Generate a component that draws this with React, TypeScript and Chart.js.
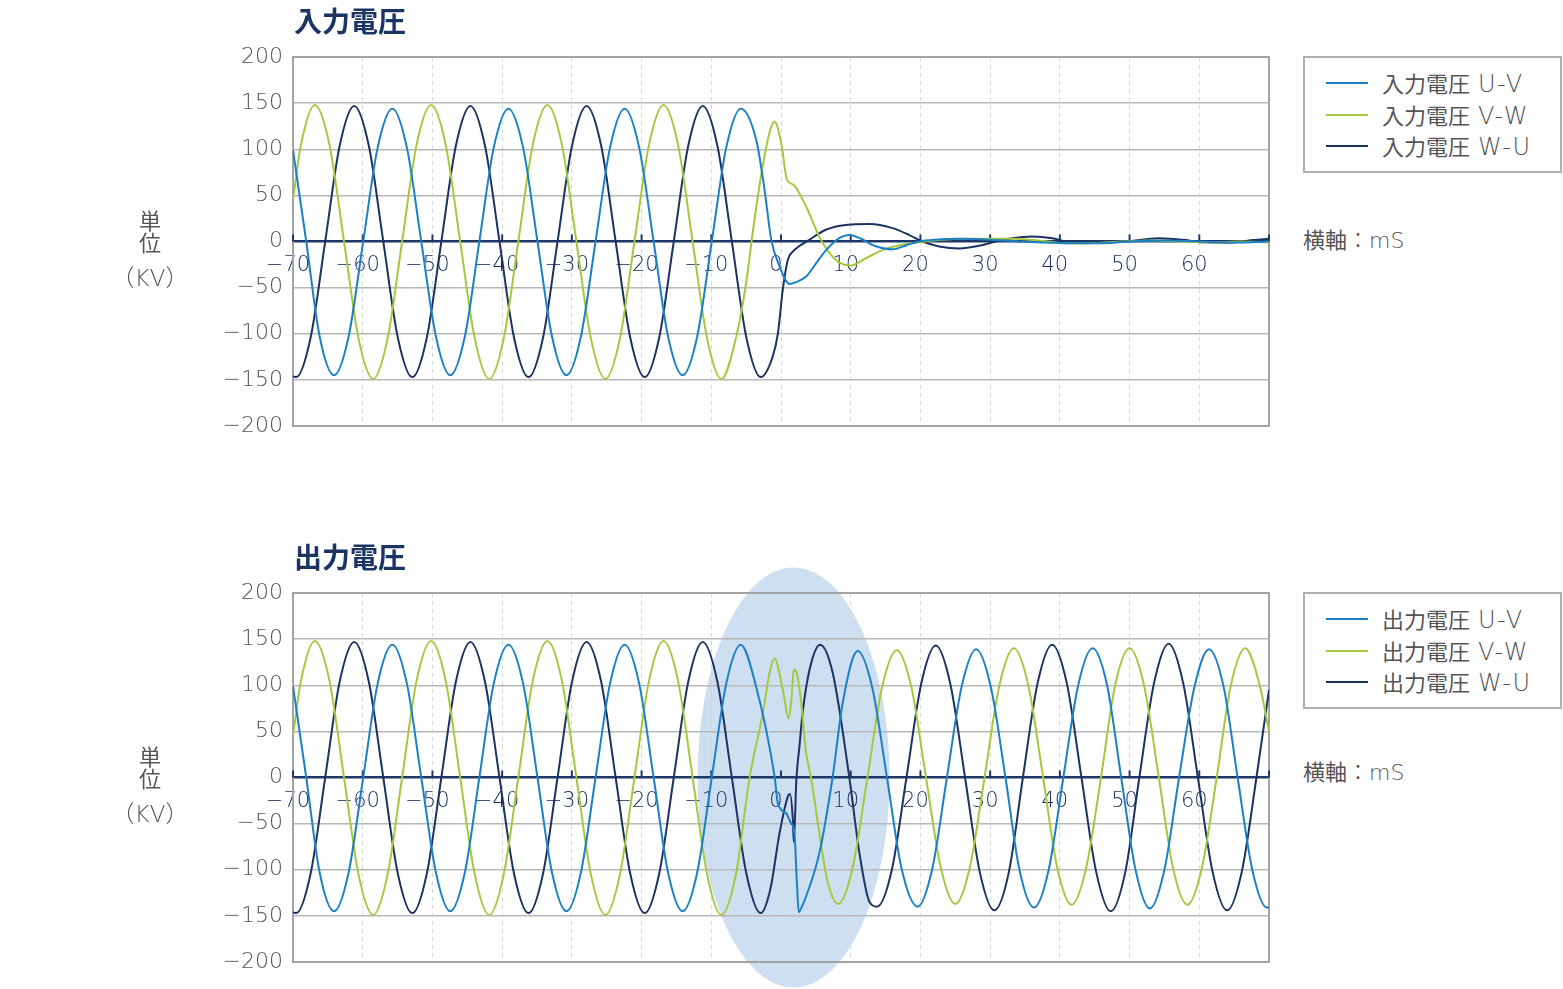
import React, { useEffect, useRef } from 'react';
import { Chart, registerables } from 'chart.js';

Chart.register(...registerables);

// ---------- axes ----------
const X_MIN = -70;
const X_MAX = 70;
const X_STEP = 10;
const Y_MIN = -200;
const Y_MAX = 200;
const Y_STEP = 50;

// ---------- pre-fault waveforms (same on both charts) : time ms / kV ----------
const PRE_UV_T = [-70, -68.1, -66.18, -64.1, -62.02, -59.93, -57.85, -55.75, -53.67, -51.6, -49.5, -47.45, -45.35, -43.27, -41.2, -39.1, -37.0, -34.93, -32.85, -30.78, -28.7, -26.6, -24.52, -22.43, -20.35, -18.27, -16.2, -14.1, -12.02, -9.93, -7.85, -5.77];
const PRE_UV_V = [99, 0, -103, -145, -103, 0, 102, 144, 102, 0, -103, -145, -103, 0, 102, 144, 102, 0, -103, -145, -103, 0, 102, 144, 102, 0, -103, -145, -103, 0, 102, 144];

const PRE_VW_T = [-70, -68.93, -66.85, -64.77, -62.68, -60.6, -58.5, -56.43, -54.35, -52.27, -50.18, -48.1, -46.02, -43.93, -41.85, -39.77, -37.68, -35.6, -33.5, -31.43, -29.35, -27.27, -25.2, -23.1, -21.02, -18.93, -16.85, -14.77, -12.68, -10.6, -8.55];
const PRE_VW_V = [45, 102, 148, 105, 0, -105, -149, -105, 0, 105, 148, 105, 0, -105, -149, -105, 0, 105, 148, 105, 0, -105, -149, -105, 0, 105, 148, 105, 0, -105, -149];

const PRE_WU_T = [-70, -69.55, -67.47, -65.38, -63.3, -61.22, -59.13, -57.05, -54.97, -52.88, -50.8, -48.72, -46.63, -44.55, -42.47, -40.38, -38.3, -36.22, -34.13, -32.05, -29.97, -27.88, -25.8, -23.72, -21.63, -19.55, -17.47, -15.38, -13.3, -11.22, -9.13, -7.05, -4.97, -2.9];
const PRE_WU_V = [-146, -147, -104, 0, 104, 147, 104, 0, -104, -147, -104, 0, 104, 147, 104, 0, -104, -147, -104, 0, 104, 147, 104, 0, -104, -147, -104, 0, 104, 147, 104, 0, -104, -147];

// ---------- input voltage after the event ----------
const IN_UV_T = [-3.55, -2.36, -1.4, -0.2, 1.2, 2.2, 3.6, 5, 6.5, 8.4, 9.8, 11.5, 13.2, 16, 18, 19.8, 22, 25.6, 30, 34, 38, 42, 46, 50, 55, 60, 65, 70];
const IN_UV_V = [110, 56, 2, -27, -46, -44, -38, -24, -9, 4, 7, 3, -4, -8.5, -4, 0, 2, 3, 2, 0, -1, -2, -2, 0, 1, 0, -1, 0];

const IN_VW_T = [-6.47, -5, -4, -2.8, -1.65, -0.93, 0, 0.9, 1.7, 3.6, 5.5, 7, 8.4, 10, 12.2, 15, 17, 19.5, 23, 27, 33, 37, 41, 45, 49, 53, 57, 62, 66, 70];
const IN_VW_V = [-105, -45, 13, 74, 118, 130, 108, 66, 62, 38, 5, -13, -23, -26, -18, -8, -4, -1, 2, 3, 3, 1, -2, -1.5, 0, 1, 0, -1, 0, -1];

const IN_WU_T = [-1.2, -0.45, 0.26, 0.97, 1.7, 4.1, 6.5, 9.3, 12.7, 16, 18.4, 20.3, 22.7, 25.6, 28.4, 30.8, 33.2, 36, 38.9, 40.9, 43.7, 47, 49.5, 54.2, 58, 60, 64.6, 67.6, 70];
const IN_WU_V = [-125, -100, -52, -20, -11, 2, 13, 18, 19, 14.5, 7, 0, -5.4, -7.6, -4.7, 0, 3.6, 5.4, 3.6, 0, -1.8, -0.7, 0, 3.6, 1.5, -0.7, -1, 1.5, 3];

// ---------- output voltage after the event ----------
const OUT_UV_T = [-3.69, -0.9, -0.45, 0.75, 1.46, 1.93, 2.26, 2.55, 3.1, 3.6, 5.5, 7.4, 8.85, 11, 13.1, 15.2, 17.3, 19.6, 21.7, 23.8, 25.9, 28.0, 30.1, 32.2, 34.2, 36.3, 38.4, 40.5, 42.6, 44.7, 46.8, 48.8, 50.85, 52.9, 55.0, 57.1, 59.3, 61.4, 63.5, 65.5, 67.6, 69.7, 70];
const OUT_UV_V = [102, 0, -28, -39, -50, -60, -111, -146, -138, -129, -82, 0, 81, 137, 97, 0, -99, -140, -99, 0, 98, 139, 98, 0, -100, -141, -100, 0, 99, 140, 99, 0, -100, -142, -100, 0, 98, 139, 98, 0, -100, -141, -141];

const OUT_VW_T = [-6.47, -4.5, -2.6, -1.6, -0.93, 0.26, 1.1, 1.5, 1.84, 2.3, 2.9, 3.6, 4.3, 5.5, 6.6, 8.2, 10.3, 12.4, 14.5, 16.6, 18.7, 20.8, 22.9, 25.0, 27.1, 29.2, 31.3, 33.4, 35.5, 37.6, 39.6, 41.7, 43.8, 45.9, 47.9, 50.0, 52.1, 54.2, 56.2, 58.3, 60.4, 62.5, 64.5, 66.6, 68.7, 70];
const OUT_VW_V = [-105, 0, 70, 115, 129, 95, 64, 85, 117, 112, 81, 27, 0, -60, -110, -137, -97, 0, 98, 138, 98, 0, -97, -137, -97, 0, 99, 140, 99, 0, -97, -138, -97, 0, 99, 140, 99, 0, -97, -138, -97, 0, 99, 140, 99, 50];

const OUT_WU_T = [-1.5, -0.2, 0.97, 1.3, 1.7, 1.84, 2.2, 2.65, 3.1, 4.1, 5.6, 7.4, 9.8, 11.25, 12.7, 13.8, 15.9, 18.0, 20.1, 22.2, 24.3, 26.4, 28.5, 30.6, 32.7, 34.7, 36.8, 38.9, 41.0, 43.1, 45.2, 47.3, 49.4, 51.4, 53.5, 55.6, 57.7, 59.8, 61.9, 64.0, 66.1, 68.2, 70];
const OUT_WU_V = [-120, -60, -21, -18, -46, -70, -3, 34, 70, 117, 144, 114, 0, -82, -135, -140, -100, 0, 101, 143, 101, 0, -102, -144, -102, 0, 102, 144, 102, 0, -102, -145, -102, 0, 102, 145, 102, 0, -102, -144, -102, 0, 95];

// highlighted region in output chart (ms, kV)
const HIGHLIGHT_T = 1.8;
const HIGHLIGHT_V = 0;

const PHASES = ['U-V', 'V-W', 'W-U'];
const C_UV = '#1c80c4';
const C_VW = '#a6c83c';
const C_WU = '#1b3262';
const COLORS = [C_UV, C_VW, C_WU];
const NAVY = '#1d3766';

type Pt = { x: number; y: number };
const pts = (t: number[], v: number[]): Pt[] => t.map((x, i) => ({ x, y: v[i] }));

const inputSeries = [
  pts(PRE_UV_T.concat(IN_UV_T), PRE_UV_V.concat(IN_UV_V)),
  pts(PRE_VW_T.concat(IN_VW_T), PRE_VW_V.concat(IN_VW_V)),
  pts(PRE_WU_T.concat(IN_WU_T), PRE_WU_V.concat(IN_WU_V)),
];
const outputSeries = [
  pts(PRE_UV_T.concat(OUT_UV_T), PRE_UV_V.concat(OUT_UV_V)),
  pts(PRE_VW_T.concat(OUT_VW_T), PRE_VW_V.concat(OUT_VW_V)),
  pts(PRE_WU_T.concat(OUT_WU_T), PRE_WU_V.concat(OUT_WU_V)),
];

const fmt = (v: number) => (v < 0 ? '\u2212' + Math.abs(v) : String(v));

const framePlugin = {
  id: 'frame',
  beforeDraw(chart: any, _args: any, opts: any) {
    if (!opts || !opts.highlight) return;
    const { ctx } = chart;
    const xs = chart.scales.x;
    const ys = chart.scales.y;
    ctx.save();
    ctx.fillStyle = '#cddff0';
    ctx.beginPath();
    ctx.ellipse(xs.getPixelForValue(HIGHLIGHT_T), ys.getPixelForValue(HIGHLIGHT_V), 96, 210, 0, 0, Math.PI * 2);
    ctx.fill();
    ctx.restore();
  },
  beforeDatasetsDraw(chart: any) {
    const { ctx, chartArea: a } = chart;
    const xs = chart.scales.x;
    const ys = chart.scales.y;
    ctx.save();
    ctx.strokeStyle = '#a3a3a3';
    ctx.lineWidth = 2;
    ctx.strokeRect(a.left, a.top, a.right - a.left, a.bottom - a.top);
    const y0 = ys.getPixelForValue(0);
    ctx.strokeStyle = NAVY;
    ctx.lineWidth = 2;
    xs.ticks.forEach((t: any) => {
      const px = xs.getPixelForValue(t.value);
      ctx.beginPath();
      ctx.moveTo(px, y0);
      ctx.lineTo(px, y0 - 7);
      ctx.stroke();
    });
    ctx.restore();
  },
};

const CW = 1290;
const CH = 453;

function WaveChart({ series, labels, highlight }: { series: Pt[][]; labels: string[]; highlight: boolean }) {
  const ref = useRef<HTMLCanvasElement>(null);
  useEffect(() => {
    const chart = new Chart(ref.current as HTMLCanvasElement, {
      type: 'line',
      data: {
        datasets: series.map((d, i) => ({
          label: labels[i],
          data: d,
          borderColor: COLORS[i],
          backgroundColor: COLORS[i],
          borderWidth: 2,
          pointRadius: 0,
          fill: false,
          cubicInterpolationMode: 'monotone' as const,
        })),
      },
      options: {
        responsive: false,
        animation: false,
        devicePixelRatio: 1,
        events: [],
        layout: { padding: { left: 0, top: 57, right: CW - 1269, bottom: CH - 426 } },
        plugins: {
          legend: { display: false },
          tooltip: { enabled: false },
          // @ts-ignore
          frame: { highlight },
        },
        scales: {
          x: {
            type: 'linear',
            min: X_MIN,
            max: X_MAX,
            position: { y: 0 } as any,
            grid: { color: '#d5d5d5', lineWidth: 1, drawTicks: false },
            border: { display: true, color: NAVY, width: 2.5, dash: [4, 4] },
            ticks: {
              stepSize: X_STEP,
              autoSkip: false,
              maxRotation: 0,
              padding: 11,
              labelOffset: -5,
              color: '#1f3366',
              font: { family: '"DejaVu Sans"', size: 21, weight: '300' as any },
              callback: (v: any) => (v === X_MAX ? '' : fmt(Number(v))),
            },
          },
          y: {
            type: 'linear',
            min: Y_MIN,
            max: Y_MAX,
            grid: {
              color: (c: any) => (c.tick && c.tick.value === 0 ? 'rgba(0,0,0,0)' : '#b8b8b8'),
              lineWidth: 1.5,
              drawTicks: false,
            },
            border: { display: false },
            ticks: {
              stepSize: Y_STEP,
              padding: 10,
              color: '#555',
              font: { family: '"DejaVu Sans"', size: 22, weight: '300' as any },
              callback: (v: any) => fmt(Number(v)),
            },
            afterFit: (s: any) => {
              s.width = 293;
            },
          },
        },
      },
      plugins: [framePlugin as any],
    });
    return () => chart.destroy();
  }, []);
  return (
    <canvas
      ref={ref}
      width={CW}
      height={CH}
      style={{ position: 'absolute', left: 0, top: 0, width: CW, height: CH }}
    />
  );
}

const TEXT_FONT = '"DejaVu Sans", "Noto Sans CJK JP", sans-serif';

function Panel({ offset, title, prefix, series, highlight, captionTop }: { offset: number; title: string; prefix: string; series: Pt[][]; highlight: boolean; captionTop: number }) {
  const labels = PHASES.map((p) => prefix + ' ' + p);
  const txt = (extra: React.CSSProperties): React.CSSProperties => ({
    position: 'absolute',
    fontFamily: TEXT_FONT,
    fontSize: 22,
    lineHeight: '22px',
    color: '#555',
    fontWeight: 300,
    whiteSpace: 'nowrap',
    ...extra,
  });
  return (
    <div style={{ position: 'absolute', left: 0, top: offset, width: 1563, height: CH }}>
      <WaveChart series={series} labels={labels} highlight={highlight} />
      <div
        style={{
          position: 'absolute',
          left: 294,
          top: 6,
          fontFamily: '"Noto Sans CJK JP", sans-serif',
          fontSize: 28,
          lineHeight: '28px',
          fontWeight: 700,
          color: '#1b3563',
          whiteSpace: 'nowrap',
        }}
      >
        {title}
      </div>
      <div style={txt({ left: 100, width: 100, top: 211, textAlign: 'center', fontWeight: 400 })}>単</div>
      <div style={txt({ left: 100, width: 100, top: 233, textAlign: 'center', fontWeight: 400 })}>位</div>
      <div style={txt({ left: 100, width: 100, top: 267, textAlign: 'center', fontSize: 23 })}>（KV）</div>
      <div style={txt({ left: 1303, top: captionTop })}>
        <span style={{ fontWeight: 400 }}>横軸</span>：mS
      </div>
      <div
        style={{
          position: 'absolute',
          left: 1303,
          top: 56,
          width: 259,
          height: 117,
          border: '2px solid #b0b0b0',
          boxSizing: 'border-box',
          background: '#fff',
        }}
      />
      {labels.map((l, i) => (
        <React.Fragment key={l}>
          <div
            style={{
              position: 'absolute',
              left: 1326,
              top: 82 + i * 31.7,
              width: 42,
              height: 2,
              background: COLORS[i],
            }}
          />
          <div style={txt({ left: 1382, top: 73 + i * 31.7 })}>
            <span style={{ fontWeight: 400 }}>{prefix}</span>
            <span style={{ letterSpacing: '1.5px', marginLeft: 8, fontSize: 24 }}>{PHASES[i]}</span>
          </div>
        </React.Fragment>
      ))}
    </div>
  );
}

export default function App() {
  return (
    <div style={{ position: 'absolute', left: 0, top: 0, width: 1563, height: 989, background: '#fff', overflow: 'hidden' }}>
      <Panel offset={0} title="入力電圧" prefix="入力電圧" series={inputSeries} highlight={false} captionTop={230} />
      <Panel offset={536} title="出力電圧" prefix="出力電圧" series={outputSeries} highlight={true} captionTop={226} />
    </div>
  );
}
